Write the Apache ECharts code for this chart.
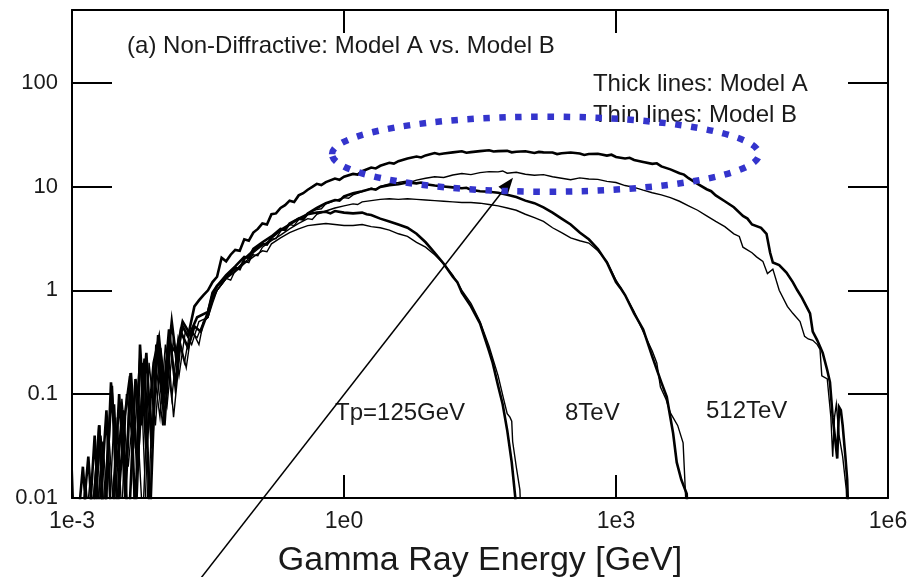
<!DOCTYPE html>
<html>
<head>
<meta charset="utf-8">
<script src="https://cdn.jsdelivr.net/npm/echarts@6/dist/echarts.min.js"></script>
<style>html,body{margin:0;padding:0;background:#fff}#c{width:910px;height:577px}</style>
</head>
<body>
<div id="c"></div>
<script>
// ---- data (x stored as log10 of gamma-ray energy in GeV) ----
const xTickLabels = ['1e-3', '1e0', '1e3', '1e6'];
const yTickLabels = ['0.01', '0.1', '1', '10', '100'];
const curveLabels = ['Tp=125GeV', '8TeV', '512TeV'];

// Model A, Tp = 512 TeV (thick)
const lgE_A512 = [-3.0,-2.8,-2.75,-2.7,-2.65,-2.56,-2.5,-2.42,-2.36,-2.3,-2.25,-2.18,-2.1,-2.04,-1.98,-1.9,-1.85,-1.78,-1.72,-1.65,-1.6,-1.55,-1.5,-1.45,-1.4,-1.35,-1.3,-1.25,-1.2,-1.15,-1.1,-1.05,-1.0,-0.95,-0.9,-0.85,-0.8,-0.75,-0.7,-0.65,-0.6,-0.55,-0.5,-0.45,-0.4,-0.35,-0.3,-0.25,-0.2,-0.1,-0.05,0.0,0.1,0.15,0.2,0.3,0.35,0.4,0.5,0.55,0.6,0.7,0.8,0.85,0.9,1.0,1.05,1.1,1.2,1.3,1.35,1.4,1.5,1.6,1.65,1.7,1.8,1.85,1.9,2.0,2.1,2.15,2.2,2.3,2.35,2.4,2.5,2.6,2.65,2.7,2.8,2.9,2.95,3.0,3.1,3.15,3.2,3.3,3.4,3.45,3.5,3.6,3.7,3.75,3.8,3.9,4.0,4.05,4.1,4.2,4.3,4.4,4.45,4.5,4.6,4.66,4.7,4.73,4.8,4.88,4.95,5.0,5.05,5.1,5.14,5.17,5.22,5.28,5.33,5.36,5.39,5.42,5.44,5.46,5.48,5.5,5.53,5.55,5.57];
const A512 = [0.004,0.004,0.012,0.05,0.005,0.12,0.007,0.06,0.15,0.006,0.3,0.03,0.2,0.35,0.1,0.5,0.22,0.45,0.36,0.7,0.8,0.9,1.0,1.2,1.35,2.06,1.9,2.2,2.45,2.4,3.1,3.0,3.6,3.9,4.4,4.3,5.4,5.5,6.2,6.6,7.3,7.1,8.2,8.6,9.3,9.9,10.6,10.3,11.0,11.9,11.6,12.4,13.2,13.0,14.0,15.2,14.9,15.8,16.9,16.6,17.5,18.6,19.4,19.0,19.9,21.0,20.4,20.8,21.3,21.8,21.1,21.4,21.9,22.3,21.7,21.9,22.0,21.3,21.6,21.8,21.0,21.5,21.3,21.2,20.5,20.9,21.2,20.8,20.1,20.5,20.6,19.8,20.2,19.2,18.6,18.9,18.0,17.2,16.5,16.7,15.6,14.6,13.4,13.0,12.0,10.6,9.4,9.0,8.2,7.2,6.3,5.2,4.9,4.3,4.0,3.5,2.3,1.85,1.75,1.48,1.2,1.0,0.85,0.7,0.6,0.4,0.33,0.25,0.17,0.13,0.06,0.035,0.024,0.075,0.07,0.05,0.025,0.015,0.004];

// Model B, Tp = 512 TeV (thin)
const lgE_B512 = [-3.0,-2.97,-2.9,-2.85,-2.8,-2.72,-2.66,-2.6,-2.52,-2.45,-2.38,-2.3,-2.22,-2.15,-2.08,-2.02,-1.95,-1.88,-1.82,-1.75,-1.68,-1.6,-1.5,-1.45,-1.4,-1.3,-1.25,-1.2,-1.1,-1.05,-1.0,-0.9,-0.8,-0.75,-0.7,-0.6,-0.55,-0.5,-0.4,-0.3,-0.25,-0.2,-0.1,0.0,0.05,0.1,0.2,0.3,0.35,0.4,0.5,0.6,0.7,0.75,0.8,0.9,1.0,1.1,1.2,1.3,1.4,1.5,1.6,1.7,1.75,1.8,1.9,2.0,2.1,2.2,2.3,2.4,2.5,2.6,2.7,2.8,2.9,3.0,3.1,3.2,3.3,3.4,3.5,3.6,3.7,3.8,3.9,4.0,4.1,4.2,4.3,4.36,4.4,4.5,4.55,4.62,4.67,4.73,4.8,4.89,4.95,5.03,5.08,5.12,5.17,5.22,5.25,5.27,5.33,5.37,5.39,5.41,5.43,5.46,5.5,5.54,5.56];
const B512 = [0.023,0.004,0.004,0.015,0.004,0.03,0.004,0.05,0.004,0.09,0.02,0.12,0.006,0.2,0.05,0.28,0.08,0.35,0.15,0.4,0.3,0.5,0.55,0.85,1.0,1.3,1.25,1.55,1.9,1.85,2.3,2.7,3.1,3.15,3.7,4.3,4.2,4.8,5.5,6.0,6.1,6.8,7.3,7.8,7.7,8.3,8.9,9.6,9.4,10.0,10.6,10.9,11.3,11.1,11.5,12.0,12.4,12.2,12.9,13.3,13.0,13.6,13.9,13.8,14.1,13.4,13.7,13.1,12.8,13.0,12.4,12.0,11.6,12.1,11.8,11.7,11.2,10.9,10.2,9.8,9.2,8.7,8.3,7.8,7.2,6.5,5.9,5.2,4.6,4.1,3.5,3.3,2.6,2.3,2.1,1.9,1.45,1.6,1.0,0.7,0.6,0.5,0.36,0.34,0.33,0.3,0.27,0.15,0.14,0.06,0.025,0.06,0.08,0.04,0.025,0.012,0.004];

// Model A, Tp = 8 TeV (thick)
const lgE_A8 = [-2.95,-2.88,-2.82,-2.75,-2.7,-2.62,-2.56,-2.48,-2.41,-2.35,-2.28,-2.2,-2.14,-2.07,-2.0,-1.93,-1.86,-1.8,-1.72,-1.65,-1.58,-1.5,-1.45,-1.4,-1.35,-1.3,-1.2,-1.15,-1.1,-1.0,-0.9,-0.85,-0.8,-0.7,-0.6,-0.5,-0.45,-0.4,-0.3,-0.2,-0.1,-0.05,0.0,0.1,0.2,0.3,0.35,0.4,0.5,0.6,0.7,0.8,0.85,0.9,1.0,1.1,1.2,1.3,1.35,1.4,1.5,1.6,1.7,1.8,1.9,2.0,2.1,2.2,2.3,2.4,2.5,2.6,2.7,2.8,2.9,3.0,3.05,3.1,3.2,3.3,3.4,3.5,3.56,3.63,3.67,3.72,3.78,3.8];
const A8 = [0.004,0.02,0.004,0.04,0.006,0.07,0.004,0.1,0.01,0.16,0.02,0.22,0.006,0.3,0.08,0.42,0.12,0.4,0.28,0.45,0.4,0.62,0.95,1.1,1.2,1.35,1.65,1.6,2.0,2.4,2.8,2.75,3.2,3.8,4.3,4.9,4.8,5.5,6.2,6.9,7.4,7.3,8.0,8.6,9.0,9.5,9.3,9.9,10.3,10.5,10.9,10.7,10.9,10.5,10.2,10.0,9.8,9.6,9.7,9.3,9.0,8.9,8.7,8.3,7.9,7.3,6.9,6.3,5.6,4.9,4.3,3.6,3.1,2.5,1.85,1.2,1.05,0.9,0.6,0.42,0.23,0.13,0.094,0.042,0.022,0.015,0.011,0.004];

// Model B, Tp = 8 TeV (thin)
const lgE_B8 = [-2.92,-2.85,-2.78,-2.68,-2.6,-2.53,-2.46,-2.4,-2.32,-2.25,-2.17,-2.1,-2.03,-1.97,-1.9,-1.83,-1.76,-1.7,-1.62,-1.55,-1.5,-1.45,-1.4,-1.3,-1.2,-1.1,-1.0,-0.95,-0.9,-0.8,-0.7,-0.6,-0.5,-0.4,-0.35,-0.3,-0.2,-0.1,0.0,0.1,0.15,0.2,0.3,0.4,0.5,0.6,0.7,0.8,0.9,1.0,1.1,1.2,1.3,1.4,1.5,1.6,1.7,1.8,1.9,2.0,2.1,2.2,2.3,2.4,2.5,2.6,2.7,2.8,2.9,3.0,3.1,3.2,3.3,3.4,3.45,3.49,3.55,3.6,3.68,3.74,3.76,3.79];
const B8 = [0.004,0.012,0.004,0.04,0.004,0.08,0.004,0.1,0.03,0.25,0.004,0.18,0.06,0.3,0.09,0.35,0.2,0.4,0.35,0.5,0.55,0.8,1.0,1.3,1.55,1.85,2.2,2.15,2.6,3.0,3.4,3.9,4.4,4.9,4.8,5.4,5.8,6.2,6.5,6.8,6.7,7.1,7.3,7.5,7.6,7.5,7.6,7.5,7.4,7.3,7.2,7.1,7.0,7.0,6.9,6.7,6.5,6.2,5.9,5.4,5.0,4.6,4.0,3.6,3.2,3.0,2.85,2.4,1.9,1.25,0.9,0.62,0.4,0.26,0.2,0.117,0.09,0.066,0.05,0.034,0.034,0.004];

// Model A, Tp = 125 GeV (thick)
const lgE_A125 = [-2.9,-2.82,-2.76,-2.7,-2.64,-2.57,-2.5,-2.44,-2.38,-2.3,-2.24,-2.18,-2.12,-2.05,-1.98,-1.92,-1.85,-1.78,-1.7,-1.62,-1.5,-1.45,-1.4,-1.3,-1.2,-1.1,-1.05,-1.0,-0.9,-0.8,-0.7,-0.65,-0.6,-0.5,-0.4,-0.3,-0.2,-0.15,-0.1,0.0,0.1,0.2,0.25,0.3,0.4,0.5,0.6,0.7,0.8,0.9,1.0,1.1,1.2,1.25,1.3,1.4,1.5,1.6,1.64,1.7,1.75,1.8,1.85,1.89,1.91];
const A125 = [0.004,0.025,0.004,0.05,0.004,0.13,0.02,0.07,0.004,0.14,0.05,0.25,0.03,0.37,0.05,0.3,0.25,0.5,0.38,0.55,0.62,0.9,1.1,1.4,1.7,2.1,2.05,2.5,2.9,3.3,3.9,3.8,4.4,4.9,5.4,5.6,5.7,5.5,5.8,5.6,5.5,5.6,5.4,5.3,4.9,4.6,4.3,4.0,3.5,2.9,2.3,1.8,1.35,1.2,0.95,0.7,0.48,0.26,0.2,0.12,0.08,0.045,0.022,0.01,0.004];

// Model B, Tp = 125 GeV (thin)
const lgE_B125 = [-2.86,-2.8,-2.74,-2.66,-2.58,-2.5,-2.44,-2.36,-2.3,-2.22,-2.15,-2.08,-2.0,-1.94,-1.88,-1.8,-1.74,-1.68,-1.6,-1.55,-1.5,-1.45,-1.4,-1.3,-1.2,-1.1,-1.0,-0.9,-0.85,-0.8,-0.7,-0.6,-0.5,-0.4,-0.3,-0.2,-0.1,0.0,0.1,0.2,0.3,0.4,0.5,0.6,0.7,0.8,0.9,1.0,1.1,1.2,1.3,1.4,1.5,1.6,1.7,1.76,1.8,1.83,1.85,1.86,1.9,1.94,1.96];
const B125 = [0.004,0.015,0.004,0.035,0.004,0.06,0.004,0.16,0.004,0.2,0.004,0.22,0.05,0.28,0.06,0.3,0.18,0.42,0.3,0.5,0.55,0.75,1.0,1.3,1.5,1.8,2.1,2.4,2.35,2.8,3.2,3.6,3.9,4.2,4.3,4.4,4.3,4.2,4.2,4.3,4.1,4.0,3.8,3.5,3.3,2.9,2.6,2.2,1.8,1.4,1.0,0.75,0.5,0.29,0.15,0.09,0.065,0.06,0.055,0.035,0.02,0.012,0.004];

// annotation anchors in data coordinates [energy GeV, value]
const titleAnchor = [0.00405, 222];
const thickNoteAnchor = [557, 95.7];
const thinNoteAnchor = [557, 48.1];
const curveLabelAnchors = [[0.796, 0.0659], [273.6, 0.0659], [9821, 0.069]];
const ellipseBox = { left: 0.738, right: 37800, top: 47, bottom: 8.9 };
const arrowTail = [0.0258, 0.00165];
const arrowTip = [73.1, 12.1];

// ---- chart ----
const FONT = '"Liberation Sans", Arial, Helvetica, sans-serif';
const TXT = '#1a1a1a';
const chart = echarts.init(document.getElementById('c'), null, { renderer: 'canvas' });

function mk(name, lg, vals, width) {
  return {
    type: 'line', name: name, xAxisIndex: 0, yAxisIndex: 0,
    data: lg.map((l, i) => [Math.pow(10, l), vals[i]]),
    showSymbol: false, symbol: 'none', clip: true, silent: true,
    lineStyle: { color: '#000', width: width, join: 'miter' },
    z: 3
  };
}

function xLabel(v) {
  const k = Math.round(Math.log10(v));
  const idx = (k + 3) / 3;
  return (Number.isInteger(idx) && xTickLabels[idx]) ? xTickLabels[idx] : '';
}
function yLabel(v) {
  const l = Math.log10(v);
  const k = Math.round(l);
  if (Math.abs(l - k) > 1e-6) return '';
  return yTickLabels[k + 2] || '';
}

const axisCommonX = {
  type: 'log', logBase: 10, min: 0.001, max: 1e6, interval: 3,
  axisLine: { show: true, onZero: false, lineStyle: { color: '#000', width: 2 } },
  axisTick: { show: true, inside: true, length: 23, lineStyle: { color: '#000', width: 2 } },
  minorTick: { show: false }, splitLine: { show: false }, minorSplitLine: { show: false }
};
const axisCommonY = {
  type: 'log', logBase: 10, min: 0.01, max: 500, interval: 1,
  axisLine: { show: true, onZero: false, lineStyle: { color: '#000', width: 2 } },
  axisTick: { show: true, inside: true, length: 40, lineStyle: { color: '#000', width: 2 } },
  minorTick: { show: false }, splitLine: { show: false }, minorSplitLine: { show: false }
};

chart.setOption({
  animation: false,
  backgroundColor: '#fff',
  grid: { left: 72, right: 22, top: 10, bottom: 79, containLabel: false, outerBoundsMode: 'none' },
  xAxis: [
    Object.assign({}, axisCommonX, {
      position: 'bottom',
      axisLabel: { formatter: xLabel, fontSize: 23, color: TXT, fontFamily: FONT, margin: 12, showMinLabel: true, showMaxLabel: true, hideOverlap: false },
      name: 'Gamma Ray Energy [GeV]', nameLocation: 'middle', nameGap: 46,
      nameTextStyle: { fontSize: 34, color: TXT, fontFamily: FONT }
    }),
    Object.assign({}, axisCommonX, { position: 'top', axisLabel: { show: false } })
  ],
  yAxis: [
    Object.assign({}, axisCommonY, {
      position: 'left',
      axisLabel: { formatter: yLabel, fontSize: 22, color: TXT, fontFamily: FONT, margin: 14, showMinLabel: true, showMaxLabel: true }
    }),
    Object.assign({}, axisCommonY, { position: 'right', axisLabel: { show: false } })
  ],
  series: [
    mk('B125', lgE_B125, B125, 1.4),
    mk('B8', lgE_B8, B8, 1.4),
    mk('B512', lgE_B512, B512, 1.4),
    mk('A125', lgE_A125, A125, 2.6),
    mk('A8', lgE_A8, A8, 2.6),
    mk('A512', lgE_A512, A512, 2.6)
  ]
});

const px = (pt) => chart.convertToPixel({ xAxisIndex: 0, yAxisIndex: 0 }, pt);

function textEl(str, pt) {
  const p = px(pt);
  return {
    type: 'text', z: 20, silent: true,
    style: { text: str, x: p[0], y: p[1], fill: TXT, font: '24px ' + FONT, align: 'left', verticalAlign: 'middle' }
  };
}

const eL = px([ellipseBox.left, Math.sqrt(ellipseBox.top * ellipseBox.bottom)]);
const eR = px([ellipseBox.right, Math.sqrt(ellipseBox.top * ellipseBox.bottom)]);
const eT = px([Math.sqrt(ellipseBox.left * ellipseBox.right), ellipseBox.top]);
const eB = px([Math.sqrt(ellipseBox.left * ellipseBox.right), ellipseBox.bottom]);

const t0 = px(arrowTail), t1 = px(arrowTip);
const dx = t1[0] - t0[0], dy = t1[1] - t0[1];
const len = Math.hypot(dx, dy), ux = dx / len, uy = dy / len;
const hl = 16, hw = 6;
const base = [t1[0] - ux * hl, t1[1] - uy * hl];

chart.setOption({
  graphic: [
    textEl('(a) Non-Diffractive: Model A vs. Model B', titleAnchor),
    textEl('Thick lines: Model A', thickNoteAnchor),
    textEl('Thin lines: Model B', thinNoteAnchor),
    textEl(curveLabels[0], curveLabelAnchors[0]),
    textEl(curveLabels[1], curveLabelAnchors[1]),
    textEl(curveLabels[2], curveLabelAnchors[2]),
    {
      type: 'ellipse', z: 30, silent: true,
      shape: { cx: (eL[0] + eR[0]) / 2, cy: (eT[1] + eB[1]) / 2, rx: (eR[0] - eL[0]) / 2, ry: (eB[1] - eT[1]) / 2 },
      style: { fill: null, stroke: '#3434cc', lineWidth: 6.5, lineDash: [6.5, 9.5], lineCap: 'butt' }
    },
    {
      type: 'line', z: 25, silent: true,
      shape: { x1: t0[0], y1: t0[1], x2: base[0], y2: base[1] },
      style: { stroke: '#000', lineWidth: 1.5 }
    },
    {
      type: 'polygon', z: 25, silent: true,
      shape: { points: [t1, [base[0] - uy * hw, base[1] + ux * hw], [base[0] + uy * hw, base[1] - ux * hw]] },
      style: { fill: '#000' }
    }
  ]
});
</script>
</body>
</html>
